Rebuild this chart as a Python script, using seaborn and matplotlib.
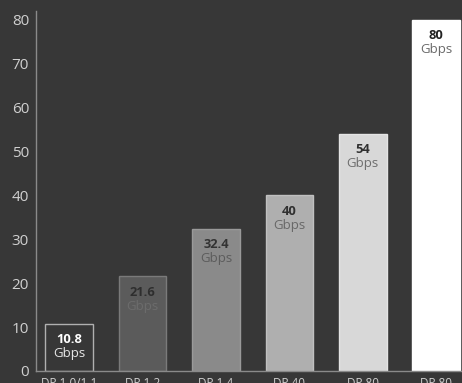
import matplotlib
matplotlib.use("Agg")
import matplotlib.pyplot as plt
import seaborn as sns
import pandas as pd

# data
versions = ["DP 1.0/1.1", "DP 1.2", "DP 1.4", "DP 40", "DP 80", "DP 80"]
bandwidth = [10.8, 21.6, 32.4, 40, 54, 80]
value_text = ["10.8", "21.6", "32.4", "40", "54", "80"]

# styling
bg = "#373737"
fills = ["#373737", "#5b5b5b", "#8a8a8a", "#afafaf", "#d8d8d8", "#ffffff"]
edges = ["#b0b0b0", "#7a7a7a", "#9a9a9a", "#c0c0c0", "#e4e4e4", "#ffffff"]
num_colors = ["#ffffff", "#2e2e2e", "#333333", "#303030", "#303030", "#222222"]
unit_colors = ["#e6e6e6", "#6c6c6c", "#5c5c5c", "#686868", "#6e6e6e", "#6a6a6a"]

sns.set_theme(style="dark")
plt.rcParams["font.family"] = ["Open Sans", "DejaVu Sans"]

df = pd.DataFrame({"pos": range(len(versions)), "gbps": bandwidth})

fig = plt.figure(figsize=(4.62, 3.83), dpi=100, facecolor=bg)
ax = fig.add_axes([36 / 462, 12 / 383, 426 / 462, 360 / 383])
ax.set_facecolor(bg)

sns.barplot(data=df, x="pos", y="gbps", hue="pos", palette=fills,
            legend=False, width=0.65, saturation=1, ax=ax)

for i, patch in enumerate(ax.patches):
    patch.set_edgecolor(edges[i])
    patch.set_linewidth(1)
    cx = patch.get_x() + patch.get_width() / 2
    top = patch.get_height()
    ax.annotate(value_text[i], (cx, top), xytext=(0, -16), textcoords="offset pixels",
                ha="center", va="center", fontsize=9.3, fontweight="bold", color=num_colors[i])
    ax.annotate("Gbps", (cx, top), xytext=(0, -30), textcoords="offset pixels",
                ha="center", va="center", fontsize=9.5, color=unit_colors[i])

ax.set_xlim(-0.45, 5.35)
ax.set_ylim(0, 82)
ax.set_yticks(range(0, 81, 10))
ax.set_xticks(range(len(versions)))
ax.set_xticklabels(versions)
ax.set_xlabel("")
ax.set_ylabel("")
ax.grid(False)
ax.tick_params(axis="y", length=0, pad=5, labelsize=11, labelcolor="#d0d0d0")
ax.tick_params(axis="x", length=0, pad=4, labelsize=8.5, labelcolor="#d0d0d0")

for side in ["top", "right"]:
    ax.spines[side].set_visible(False)
ax.spines["left"].set_color("#8a8a8a")
ax.spines["bottom"].set_color("#8a8a8a")
ax.spines["left"].set_linewidth(1)
ax.spines["bottom"].set_linewidth(1)

fig.savefig("out.png", dpi=100, facecolor=bg)
